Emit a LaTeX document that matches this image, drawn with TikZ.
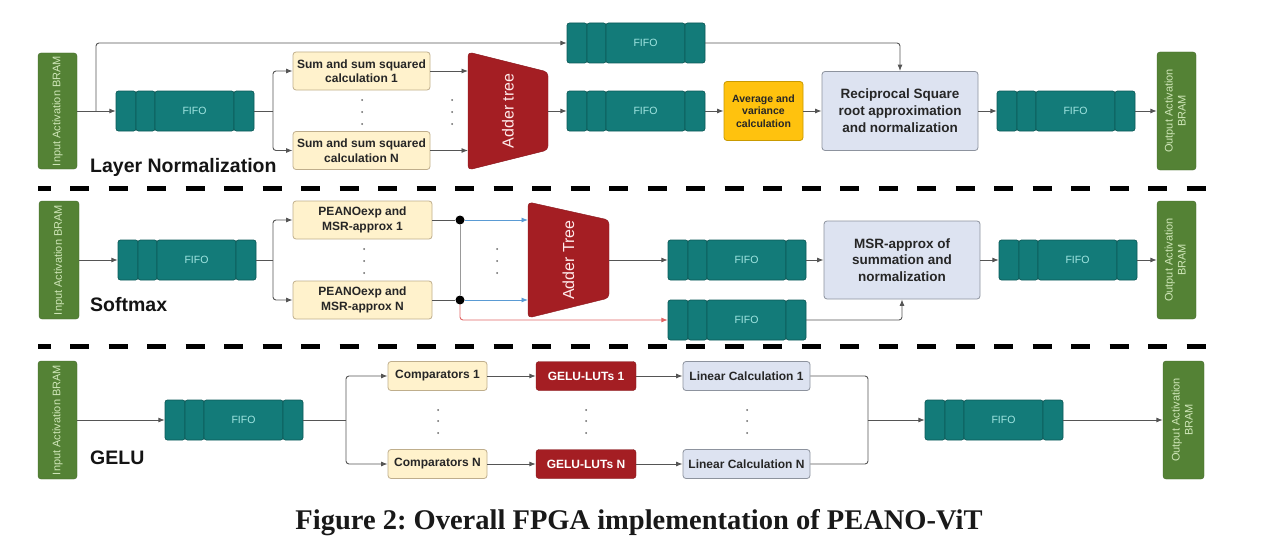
\documentclass[tikz,border=0pt]{standalone}
\usepackage{fontspec}
\setmainfont{Liberation Sans}
\newfontfamily\capfont{Liberation Serif}
\usetikzlibrary{arrows.meta}
\frenchspacing
\definecolor{linec}{HTML}{555555}
\definecolor{bramg}{HTML}{548235}
\definecolor{bramt}{HTML}{CFE6B8}
\definecolor{tealf}{HTML}{137B79}
\definecolor{teald}{HTML}{0C5A58}
\definecolor{fifot}{HTML}{A2E6E2}
\definecolor{cream}{HTML}{FFF2CC}
\definecolor{creamb}{HTML}{BFAE8C}
\definecolor{lav}{HTML}{DDE3F1}
\definecolor{lavb}{HTML}{8D939E}
\definecolor{yel}{HTML}{FFC20E}
\definecolor{yelb}{HTML}{C99A00}
\definecolor{adred}{HTML}{A41E23}
\definecolor{bluea}{HTML}{5A9BD4}
\definecolor{reda}{HTML}{E06666}
\definecolor{dotc}{HTML}{666666}
\newcommand\myfs[2]{\fontsize{#1}{#2}\selectfont}
\tikzset{
  conn/.style={draw=linec, line width=0.9pt, -{Latex[length=6.5pt,width=5pt]}, rounded corners=3pt},
  plain/.style={draw=linec, line width=0.9pt, rounded corners=3pt},
  blueconn/.style={draw=bluea, line width=0.9pt, -{Latex[length=6.5pt,width=5pt]}},
  redconn/.style={draw=reda, line width=0.9pt, -{Latex[length=6.5pt,width=5pt]}, rounded corners=3pt},
  grayline/.style={draw=linec!60, line width=0.9pt},
  bram/.style={rectangle, rounded corners=3pt, fill=bramg, draw=bramg!80!black, text=bramt, font=\myfs{11}{13}, inner sep=0pt},
  creambox/.style={rectangle, rounded corners=3pt, fill=cream, draw=creamb, line width=0.8pt, text=black!85, font=\bfseries\myfs{12}{14.5}, align=center, inner sep=0pt},
  lavbox/.style={rectangle, rounded corners=3pt, fill=lav, draw=lavb, line width=0.8pt, text=black!85, align=center, inner sep=0pt},
  yelbox/.style={rectangle, rounded corners=3pt, fill=yel, draw=yelb, line width=0.8pt, text=black!85, font=\bfseries\myfs{10.5}{12.5}, align=center, inner sep=0pt},
  redbox/.style={rectangle, rounded corners=3pt, fill=adred, draw=adred!80!black, text=white, font=\bfseries\myfs{12}{14}, align=center, inner sep=0pt},
  adderfill/.style={fill=adred, draw=adred!85!black, rounded corners=4pt},
  addertext/.style={text=white!92!red, font=\myfs{16}{18}, inner sep=0pt},
  fifonode/.style={rectangle, minimum width=138pt, minimum height=40pt, inner sep=0pt},
  fifocell/.style={fill=tealf, draw=teald, line width=0.7pt, rounded corners=2.5pt},
  fifotext/.style={text=fifot, font=\myfs{10.5}{12}, inner sep=0pt},
  jdot/.style={circle, fill=black, minimum size=9pt, inner sep=0pt},
  seclabel/.style={font=\bfseries\myfs{19.5}{22}, text=black!92, inner sep=0pt},
  sepline/.style={draw=black, line width=5pt, dash pattern=on 19pt off 19.5pt, dash phase=6.5pt},
  capt/.style={font=\capfont\bfseries\myfs{28.5}{31}, text=black!90, inner sep=0pt}
}
\newcommand\fifo[3]{%
  \node[fifonode] (#1) at ({#2+69},{#3+20}) {};
  \foreach \a/\b in {0/20,20/39,39/118,118/138}
    \draw[fifocell] ({#2+\a},#3) rectangle ({#2+\b},{#3+40});
  \node[fifotext] (#1t) at ({#2+78.5},{#3+20}) {FIFO};
}
\begin{document}
\begin{tikzpicture}[x=1pt,y=-1pt]
\useasboundingbox[fill=white] (0,0) rectangle (1280,543);

% ================= Layer Normalization =================
\node[bram, minimum width=39pt, minimum height=116pt] (inLN) at (57.5,111) {\rotatebox{90}{Input Activation BRAM}};
\fifo{fLN1}{116}{91}
\fifo{fLNt}{567}{23}
\fifo{fLN2}{567}{91}
\fifo{fLN3}{997}{91}
\node[creambox, minimum width=137pt, minimum height=38pt] (s1) at (361.5,71) {Sum and sum squared\\calculation 1};
\node[creambox, minimum width=137pt, minimum height=38pt] (sN) at (361.5,150.5) {Sum and sum squared\\calculation N};
\draw[adderfill] (468,52) -- (548,72) -- (548,150) -- (468,170) -- cycle;
\node[addertext] (aLN) at (508,111) {\rotatebox{90}{Adder tree}};
\coordinate (aLNw) at (468,111);
\coordinate (aLNe) at (548,111);
\node[yelbox, minimum width=79pt, minimum height=59pt] (avg) at (763.5,111) {Average and\\variance\\calculation};
\node[lavbox, font=\bfseries\myfs{13.5}{17}, minimum width=156pt, minimum height=79pt] (rec) at (900,111) {Reciprocal Square\\root approximation\\and normalization};
\node[bram, minimum width=39pt, minimum height=118pt] (outLN) at (1176.5,111) {\rotatebox{90}{\begin{tabular}{@{}c@{}}Output Activation\\BRAM\end{tabular}}};
\node[seclabel, anchor=west] (labLN) at (90,167) {Layer Normalization};

\coordinate (bLN0) at (96,111);
\coordinate (bLN1) at (273,111);
\draw[conn] (inLN) -- (fLN1);
\draw[conn] (bLN0) |- (fLNt);
\draw[plain] (fLN1) -- (bLN1);
\draw[conn] (bLN1) |- (s1);
\draw[conn] (bLN1) |- (sN);
\draw[conn] (s1) -- (s1 -| aLNw);
\draw[conn] (sN) -- (sN -| aLNw);
\draw[conn] (aLNe) -- (fLN2);
\draw[conn] (fLN2) -- (avg);
\draw[conn] (avg) -- (rec);
\draw[conn] (rec) -- (fLN3);
\draw[conn] (fLN3) -- (outLN);
\draw[conn] (fLNt) -| (rec);
\foreach \x in {362,452} \foreach \y in {100,112,124} \fill[dotc] (\x,\y) circle (1pt);

\draw[sepline] (38,188) -- (1216,188);

% ================= Softmax =================
\node[bram, minimum width=40pt, minimum height=118pt] (inSM) at (59,260) {\rotatebox{90}{Input Activation BRAM}};
\fifo{fSM1}{118}{240}
\node[creambox, minimum width=139pt, minimum height=38pt] (p1) at (362.5,220) {PEANOexp and\\MSR-approx 1};
\node[creambox, minimum width=139pt, minimum height=38pt] (pN) at (362.5,300) {PEANOexp and\\MSR-approx N};
\node[jdot] (j1) at (460,220) {};
\node[jdot] (jN) at (460,300) {};
\draw[adderfill] (528,202) -- (609,220) -- (609,298) -- (528,318) -- cycle;
\node[addertext] (aSM) at (568.5,260) {\rotatebox{90}{Adder Tree}};
\coordinate (aSMw) at (528,260);
\coordinate (aSMe) at (609,260);
\fifo{fSM2}{668}{240}
\fifo{fSMb}{668}{300}
\node[lavbox, font=\bfseries\myfs{13.5}{16.5}, minimum width=156pt, minimum height=78pt] (msr) at (902,260) {MSR-approx of\\summation and\\normalization};
\fifo{fSM3}{999}{240}
\node[bram, minimum width=39pt, minimum height=118pt] (outSM) at (1176.5,260) {\rotatebox{90}{\begin{tabular}{@{}c@{}}Output Activation\\BRAM\end{tabular}}};
\node[seclabel, anchor=west] (labSM) at (90,305) {Softmax};

\coordinate (bSM) at (273,260);
\draw[conn] (inSM) -- (fSM1);
\draw[plain] (fSM1) -- (bSM);
\draw[conn] (bSM) |- (p1);
\draw[conn] (bSM) |- (pN);
\draw[plain] (p1) -- (j1);
\draw[plain] (pN) -- (jN);
\draw[blueconn] (j1) -- (j1 -| aSMw);
\draw[blueconn] (jN) -- (jN -| aSMw);
\draw[grayline] (j1) -- (jN);
\draw[redconn] (jN) |- (fSMb);
\draw[conn] (aSMe) -- (fSM2);
\draw[conn] (fSM2) -- (msr);
\draw[conn] (fSMb) -| (msr);
\draw[conn] (msr) -- (fSM3);
\draw[conn] (fSM3) -- (outSM);
\foreach \x in {364,497} \foreach \y in {249,261,273} \fill[dotc] (\x,\y) circle (1pt);

\draw[sepline] (38,346.5) -- (1216,346.5);

% ================= GELU =================
\node[bram, minimum width=39pt, minimum height=118pt] (inG) at (57.5,420) {\rotatebox{90}{Input Activation BRAM}};
\fifo{fG1}{165}{400}
\node[creambox, minimum width=99pt, minimum height=29pt] (c1) at (437.5,376) {Comparators 1};
\node[creambox, minimum width=99pt, minimum height=29pt] (cN) at (437.5,464) {Comparators N};
\node[redbox, minimum width=100pt, minimum height=29pt] (g1) at (586,376) {GELU-LUTs 1};
\node[redbox, minimum width=100pt, minimum height=29pt] (gN) at (586,464) {GELU-LUTs N};
\node[lavbox, font=\bfseries\myfs{12}{14}, minimum width=127pt, minimum height=29pt] (l1) at (746.5,376) {Linear Calculation 1};
\node[lavbox, font=\bfseries\myfs{12}{14}, minimum width=127pt, minimum height=29pt] (lN) at (746.5,464) {Linear Calculation N};
\fifo{fG2}{925}{400}
\node[bram, minimum width=41pt, minimum height=118pt] (outG) at (1183.5,420) {\rotatebox{90}{\begin{tabular}{@{}c@{}}Output Activation\\BRAM\end{tabular}}};
\node[seclabel, anchor=west] (labG) at (90,458) {GELU};

\coordinate (bG) at (346,420);
\coordinate (mG) at (868,420);
\draw[conn] (inG) -- (fG1);
\draw[plain] (fG1) -- (bG);
\draw[conn] (bG) |- (c1);
\draw[conn] (bG) |- (cN);
\draw[conn] (c1) -- (g1);
\draw[conn] (g1) -- (l1);
\draw[conn] (cN) -- (gN);
\draw[conn] (gN) -- (lN);
\draw[plain] (l1) -| (mG);
\draw[plain] (lN) -| (mG);
\draw[conn] (mG) -- (fG2);
\draw[conn] (fG2) -- (outG);
\foreach \x in {438,586,747} \foreach \y in {410,421,433} \fill[dotc] (\x,\y) circle (1pt);

% ================= Caption =================
\node[capt] (cap) at (639,523) {Figure 2: Overall FPGA implementation of PEANO-ViT};
\end{tikzpicture}
\end{document}
